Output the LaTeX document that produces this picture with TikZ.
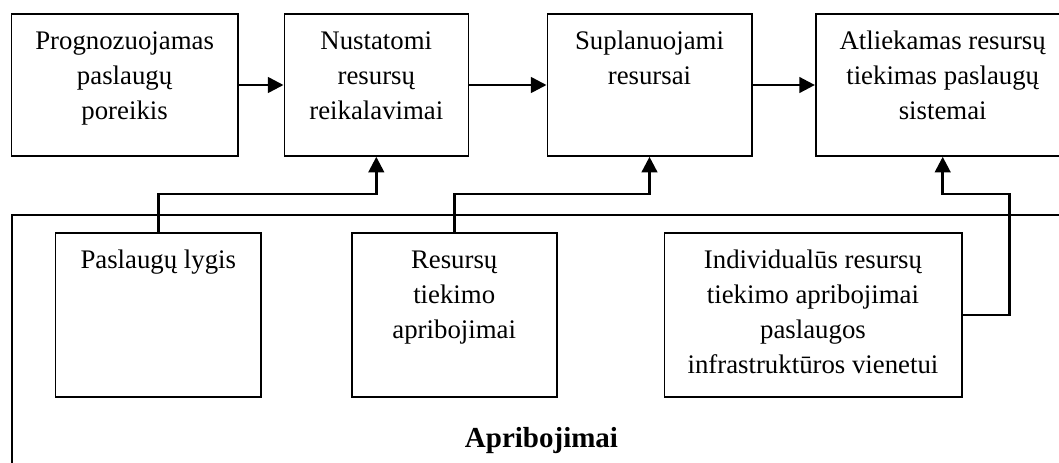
\documentclass[tikz,border=0pt]{standalone}
\usepackage{fontspec}
\setmainfont{Liberation Serif}
\usetikzlibrary{arrows.meta}
\tikzset{
  box/.style={draw, line width=0.8pt, inner sep=0pt, rectangle},
  topbox/.style={box, minimum height=71pt},
  lowbox/.style={box, minimum height=82pt},
  lbl/.style={align=center, inner sep=0pt, anchor=north, font=\fontsize{13.4}{17.5}\selectfont},
  arr/.style={line width=1.3pt, -{Triangle[length=7.8pt,width=7.8pt]}},
  frame/.style={line width=0.8pt}
}
\newcommand{\fl}{\rule{0pt}{12pt}}
\begin{document}
\begin{tikzpicture}[x=0.5pt,y=-0.5pt]
\clip (0,0) rectangle (1059,462);
\fill[white] (0,0) rectangle (1059,462);
% top row
\node[topbox, minimum width=113.1pt] (b1) at (124.6,85) {};
\node[topbox, minimum width=92pt] (b2) at (376.3,85) {};
\node[topbox, minimum width=102.2pt] (b3) at (649.5,85) {};
\node[topbox, minimum width=127pt] (b4) at (942.7,85) {};
\node[lbl] (t1) at ([yshift=-6pt]b1.north) {\fl Prognozuojamas\\paslaugų\\poreikis};
\node[lbl] (t2) at ([yshift=-6pt]b2.north) {\fl Nustatomi\\resursų\\reikalavimai};
\node[lbl] (t3) at ([yshift=-6pt]b3.north) {\fl Suplanuojami\\resursai};
\node[lbl] (t4) at ([yshift=-6pt]b4.north) {\fl Atliekamas resursų\\tiekimas paslaugų\\sistemai};
% frame
\coordinate (fbl) at (12,480);
\coordinate (ftl) at (12,215);
\coordinate (ftr) at (1080,215);
\draw[frame] (fbl) -- (ftl) -- (ftr);
% lower boxes
\node[lowbox, minimum width=102.7pt] (b5) at (158.3,315) {};
\node[lowbox, minimum width=102.5pt] (b6) at (454.2,315) {};
\node[lowbox, minimum width=148.7pt] (b7) at (813,315) {};
\node[lbl] (t5) at ([yshift=-6pt]b5.north) {\fl Paslaugų lygis};
\node[lbl] (t6) at ([yshift=-6pt]b6.north) {\fl Resursų\\tiekimo\\apribojimai};
\node[lbl] (t7) at ([yshift=-6pt]b7.north) {\fl Individualūs resursų\\tiekimo apribojimai\\paslaugos\\infrastruktūros vienetui};
\node[anchor=base, inner sep=0pt, font=\fontsize{14.5}{17}\selectfont\bfseries] (ap) at (541.5,447) {Apribojimai};
% connectors
\coordinate (h1) at (0,194);
\coordinate (v3) at (1009.3,0);
\draw[arr] (b1.east) -- (b2.west);
\draw[arr] (b2.east) -- (b3.west);
\draw[arr] (b3.east) -- (b4.west);
\draw[arr] (b5.north) -- (b5.north |- h1) -| (b2.south);
\draw[arr] (b6.north) -- (b6.north |- h1) -| (b3.south);
\draw[arr] (b7.east) -| (v3 |- h1) -| (b4.south);
\end{tikzpicture}
\end{document}
